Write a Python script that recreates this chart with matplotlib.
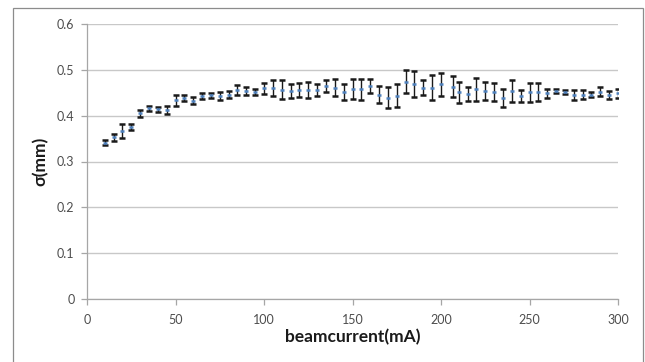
import matplotlib
matplotlib.use("Agg")
import matplotlib.pyplot as plt
from matplotlib.patches import Rectangle

current = [10, 15, 20, 25, 30, 35, 40, 45, 50, 55, 60, 65, 70, 75, 80, 85, 90, 95,
           100, 105, 110, 115, 120, 125, 130, 135, 140, 145, 150, 155, 160, 165,
           170, 175, 180, 185, 190, 195, 200, 207, 210, 215, 220, 225, 230, 235,
           240, 245, 250, 255, 260, 265, 270, 275, 280, 285, 290, 295, 300]
sigma = [0.341, 0.353, 0.367, 0.375, 0.405, 0.416, 0.414, 0.412, 0.434, 0.438,
         0.433, 0.443, 0.444, 0.443, 0.446, 0.456, 0.454, 0.451, 0.460, 0.460,
         0.457, 0.454, 0.456, 0.456, 0.456, 0.465, 0.461, 0.451, 0.458, 0.458,
         0.465, 0.446, 0.439, 0.443, 0.474, 0.469, 0.461, 0.461, 0.468, 0.463,
         0.451, 0.447, 0.458, 0.454, 0.452, 0.439, 0.454, 0.443, 0.451, 0.451,
         0.449, 0.454, 0.451, 0.446, 0.446, 0.446, 0.452, 0.445, 0.449]
err = [0.005, 0.008, 0.015, 0.006, 0.007, 0.005, 0.005, 0.009, 0.012, 0.006,
       0.008, 0.006, 0.006, 0.009, 0.008, 0.011, 0.008, 0.007, 0.012, 0.018,
       0.021, 0.016, 0.015, 0.018, 0.013, 0.013, 0.018, 0.017, 0.021, 0.023,
       0.015, 0.018, 0.023, 0.025, 0.025, 0.028, 0.016, 0.027, 0.025, 0.023,
       0.023, 0.016, 0.025, 0.019, 0.020, 0.020, 0.024, 0.014, 0.021, 0.020,
       0.010, 0.005, 0.004, 0.011, 0.010, 0.005, 0.010, 0.008, 0.010]
xticks = [0, 50, 100, 150, 200, 250, 300]
yticks = [0, 0.1, 0.2, 0.3, 0.4, 0.5, 0.6]
xlabel = "beamcurrent(mA)"
ylabel = "σ(mm)"

plt.rcParams['font.family'] = ['Lato', 'DejaVu Sans']

fig = plt.figure(figsize=(6.45, 3.62), dpi=100)
fig.patches.append(Rectangle((13 / 645, -0.1), 630 / 645, 1.1 - 8 / 362,
                             transform=fig.transFigure, fill=False,
                             edgecolor='#8c8c8c', linewidth=0.9))
ax = fig.add_axes([87 / 645, 1 - 299 / 362, 531 / 645, 275 / 362])

ax.errorbar(current, sigma, yerr=err, fmt='_', color='#4F81BD', markersize=3.5,
            markeredgewidth=1.8, ecolor='#1a1a1a', elinewidth=1.0, capsize=2.2,
            capthick=1.0, zorder=3)

ax.set_xlim(0, 300)
ax.set_ylim(0, 0.6)
ax.set_xticks(xticks)
ax.set_yticks(yticks)
ax.set_xticklabels([str(t) for t in xticks])
ax.set_yticklabels(['0'] + [f"{t:.1f}" for t in yticks[1:]])
ax.grid(axis='y', color='#c8c8c8', linewidth=1)
ax.set_axisbelow(True)
for s in ['top', 'right']:
    ax.spines[s].set_visible(False)
for s in ['left', 'bottom']:
    ax.spines[s].set_color('#a6a6a6')
    ax.spines[s].set_linewidth(0.9)
ax.tick_params(axis='both', colors='#a6a6a6', labelcolor='#4d4d4d',
               labelsize=9, length=4, width=0.9, direction='out')
ax.tick_params(axis='x', pad=7)
ax.tick_params(axis='y', pad=5)

ax.set_xlabel(xlabel, fontsize=12.5, fontweight='bold', color='#1a1a1a', labelpad=2)
ax.set_ylabel(ylabel, fontsize=12.5, fontweight='bold', color='#1a1a1a', labelpad=6)

fig.savefig('out.png', dpi=100)
